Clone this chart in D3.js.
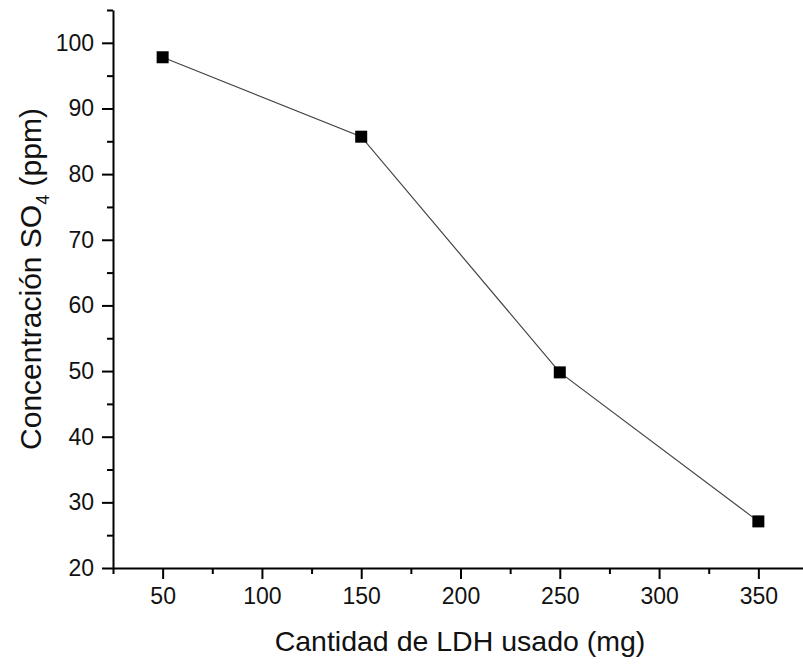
<!DOCTYPE html>
<html>
<head>
<meta charset="utf-8">
<script src="https://cdn.jsdelivr.net/npm/d3@7"></script>
<style>
  html, body { margin: 0; padding: 0; background: #fff; }
  svg { display: block; font-family: "Liberation Sans", Arial, sans-serif; }
</style>
</head>
<body>
<svg id="chart" width="803" height="664"></svg>
<script>
// Data
const ldhMg = [50, 150, 250, 350];
const so4Ppm = [97.8, 85.7, 49.8, 27.1];
const xMajorTicks = [50, 100, 150, 200, 250, 300, 350];
const xMinorTicks = [25, 75, 125, 175, 225, 275, 325, 375];
const yMajorTicks = [20, 30, 40, 50, 60, 70, 80, 90, 100];
const yMinorTicks = [25, 35, 45, 55, 65, 75, 85, 95, 105];
const xTitle = "Cantidad de LDH usado (mg)";
const yTitleMain = "Concentración SO";
const yTitleSub = "4";
const yTitleEnd = " (ppm)";

const svg = d3.select("#chart");
const plotLeft = 113, plotRight = 808, plotTop = 10, plotBottom = 568;

const x = d3.scaleLinear().domain([25, 375]).range([plotLeft, plotRight]);
const y = d3.scaleLinear().domain([20, 105]).range([plotBottom, plotTop]);

// Minor ticks
svg.append("g").attr("transform", `translate(0,${plotBottom})`)
  .call(d3.axisBottom(x).tickValues(xMinorTicks).tickSize(6).tickFormat(""))
  .call(g => g.select(".domain").remove())
  .call(g => g.selectAll("line").attr("stroke", "#000").attr("stroke-width", 2));
svg.append("g").attr("transform", `translate(${plotLeft},0)`)
  .call(d3.axisLeft(y).tickValues(yMinorTicks).tickSize(6).tickFormat(""))
  .call(g => g.select(".domain").remove())
  .call(g => g.selectAll("line").attr("stroke", "#000").attr("stroke-width", 2));

// Major axes
const xAxis = svg.append("g").attr("transform", `translate(0,${plotBottom})`)
  .call(d3.axisBottom(x).tickValues(xMajorTicks).tickSize(11).tickSizeOuter(0).tickPadding(9).tickFormat(d3.format("d")));
const yAxis = svg.append("g").attr("transform", `translate(${plotLeft},0)`)
  .call(d3.axisLeft(y).tickValues(yMajorTicks).tickSize(11).tickSizeOuter(0).tickPadding(8).tickFormat(d3.format("d")));

[xAxis, yAxis].forEach(g => {
  g.select(".domain").attr("stroke", "#000").attr("stroke-width", 2);
  g.selectAll(".tick line").attr("stroke", "#000").attr("stroke-width", 2);
  g.selectAll(".tick text").attr("fill", "#111").style("font-size", "23px")
    .style("font-family", "'Liberation Sans', Arial, sans-serif");
});

// Line
const pts = ldhMg.map((d, i) => [d, so4Ppm[i]]);
svg.append("path")
  .datum(pts)
  .attr("fill", "none")
  .attr("stroke", "#444")
  .attr("stroke-width", 1.2)
  .attr("d", d3.line().x(d => x(d[0])).y(d => y(d[1])));

// Markers
const s = 12;
svg.selectAll("rect.pt").data(pts).enter().append("rect")
  .attr("class", "pt")
  .attr("x", d => x(d[0]) - s / 2)
  .attr("y", d => y(d[1]) - s / 2)
  .attr("width", s).attr("height", s)
  .attr("fill", "#000");

// Titles
svg.append("text")
  .attr("x", 460).attr("y", 651)
  .attr("text-anchor", "middle")
  .attr("fill", "#111")
  .style("font-size", "28.5px")
  .text(xTitle);

const yt = svg.append("text")
  .attr("transform", `translate(41,279) rotate(-90)`)
  .attr("text-anchor", "middle")
  .attr("fill", "#111")
  .style("font-size", "30px");
yt.append("tspan").text(yTitleMain);
yt.append("tspan").attr("dy", 8).style("font-size", "18px").text(yTitleSub);
yt.append("tspan").attr("dy", -8).text(yTitleEnd);
</script>
</body>
</html>
